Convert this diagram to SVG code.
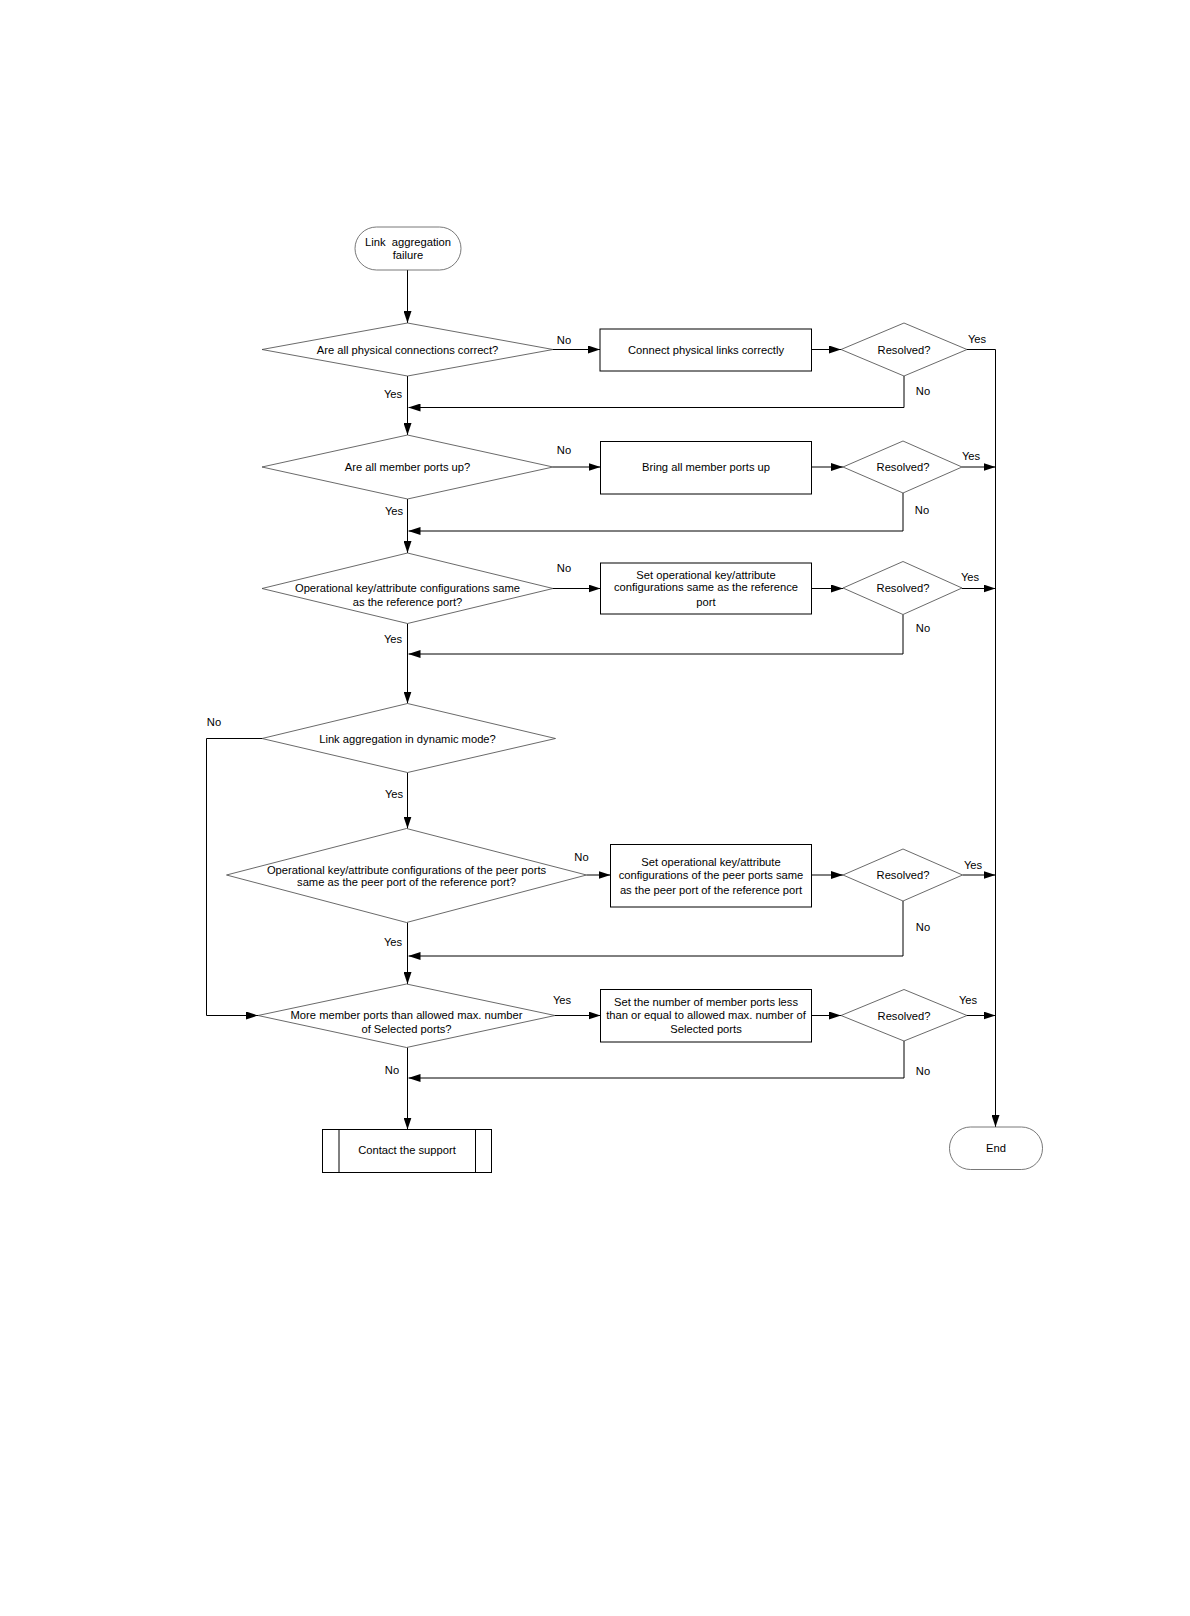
<svg xmlns="http://www.w3.org/2000/svg" width="1190" height="1616" viewBox="0 0 1190 1616">
<defs>
<marker id="ah" viewBox="0 0 12 8" refX="12" refY="4" markerWidth="12" markerHeight="8" markerUnits="userSpaceOnUse" orient="auto">
<path d="M0,0 L12,4 L0,8 Z" fill="#000"/>
</marker>
<style>
text{font-family:"Liberation Sans",Arial,sans-serif;font-size:11.2px;fill:#000;text-anchor:middle;dominant-baseline:central}
.dia{fill:#fff;stroke:#444;stroke-width:0.8}
.box{fill:#fff;stroke:#000;stroke-width:1}
.term{fill:#fff;stroke:#555;stroke-width:0.8}
.c{fill:none;stroke:#000;stroke-width:1}
.a{fill:none;stroke:#000;stroke-width:1;marker-end:url(#ah)}
</style>
</defs>
<rect width="1190" height="1616" fill="#fff"/>

<g id="connectors">
<line class="a" x1="407.5" y1="270" x2="407.5" y2="323"/>
<line class="a" x1="553" y1="349.5" x2="600" y2="349.5"/>
<line class="a" x1="811.5" y1="349.5" x2="841" y2="349.5"/>
<polyline class="a" points="967,349.5 995.5,349.5 995.5,1127"/>
<polyline class="a" points="904,376 904,407.5 408.5,407.5"/>
<line class="a" x1="407.5" y1="376" x2="407.5" y2="435"/>

<line class="a" x1="553" y1="467" x2="600.5" y2="467"/>
<line class="a" x1="811.5" y1="467" x2="843" y2="467"/>
<line class="a" x1="962" y1="467" x2="995.5" y2="467"/>
<polyline class="a" points="903,493 903,531 408.5,531"/>
<line class="a" x1="407.5" y1="499" x2="407.5" y2="553"/>

<line class="a" x1="553" y1="588.5" x2="600.5" y2="588.5"/>
<line class="a" x1="811.5" y1="588.5" x2="843" y2="588.5"/>
<line class="a" x1="962" y1="588.5" x2="995.5" y2="588.5"/>
<polyline class="a" points="903,614.5 903,654 408.5,654"/>
<line class="a" x1="407.5" y1="623.5" x2="407.5" y2="703.5"/>

<polyline class="a" points="262,738.5 206.5,738.5 206.5,1015.5 258,1015.5"/>
<line class="a" x1="407.5" y1="772.5" x2="407.5" y2="828.5"/>

<line class="a" x1="586.5" y1="875" x2="610.5" y2="875"/>
<line class="a" x1="811.5" y1="875" x2="843" y2="875"/>
<line class="a" x1="962.5" y1="875" x2="995.5" y2="875"/>
<polyline class="a" points="903,901 903,956 408.5,956"/>
<line class="a" x1="407.5" y1="922.5" x2="407.5" y2="984"/>

<line class="a" x1="555" y1="1015.5" x2="600.5" y2="1015.5"/>
<line class="a" x1="811.5" y1="1015.5" x2="841" y2="1015.5"/>
<line class="a" x1="967" y1="1015.5" x2="995.5" y2="1015.5"/>
<polyline class="a" points="904,1041 904,1078 408.5,1078"/>
<line class="a" x1="407.5" y1="1047.5" x2="407.5" y2="1129.5"/>

<text x="564" y="340">No</text>
<text x="977" y="339">Yes</text>
<text x="923" y="391">No</text>
<text x="393" y="394">Yes</text>
<text x="564" y="450">No</text>
<text x="971" y="456">Yes</text>
<text x="922" y="510">No</text>
<text x="394" y="511">Yes</text>
<text x="564" y="568">No</text>
<text x="970" y="577">Yes</text>
<text x="923" y="628">No</text>
<text x="393" y="638.5">Yes</text>
<text x="214" y="722">No</text>
<text x="394" y="794">Yes</text>
<text x="581.5" y="856.5">No</text>
<text x="973" y="865">Yes</text>
<text x="923" y="926.5">No</text>
<text x="393" y="942">Yes</text>
<text x="562" y="999.5">Yes</text>
<text x="968" y="999.5">Yes</text>
<text x="923" y="1071">No</text>
<text x="392" y="1070">No</text>
</g>

<g id="start">
<rect class="term" x="355" y="227" width="106" height="43" rx="21.5" ry="21.5"/>
<text x="408" y="241.5" xml:space="preserve">Link  aggregation</text>
<text x="408" y="254.5">failure</text>
</g>

<g id="d1">
<polygon class="dia" points="407.5,323 553,349.5 407.5,376 262,349.5"/>
<text x="407.5" y="349.5">Are all physical connections correct?</text>
</g>
<g id="b1">
<rect class="box" x="600" y="329" width="211.5" height="42"/>
<text x="706" y="350">Connect physical links correctly</text>
</g>
<g id="r1">
<polygon class="dia" points="904,323 967,349.5 904,376 841,349.5"/>
<text x="904" y="349.5">Resolved?</text>
</g>

<g id="d2">
<polygon class="dia" points="407.5,435 553,467 407.5,499 262,467"/>
<text x="407.5" y="467">Are all member ports up?</text>
</g>
<g id="b2">
<rect class="box" x="600.5" y="441.5" width="211" height="52.5"/>
<text x="706" y="467">Bring all member ports up</text>
</g>
<g id="r2">
<polygon class="dia" points="903,441 962,467 903,493 843,467"/>
<text x="903" y="467">Resolved?</text>
</g>

<g id="d3">
<polygon class="dia" points="407.5,553 553,588.5 407.5,623.5 262,588.5"/>
<text x="407.5" y="587.5">Operational key/attribute configurations same</text>
<text x="407.5" y="601.5">as the reference port?</text>
</g>
<g id="b3">
<rect class="box" x="600.5" y="563" width="211" height="51"/>
<text x="706" y="574.5">Set operational key/attribute</text>
<text x="706" y="587">configurations same as the reference</text>
<text x="706" y="601.5">port</text>
</g>
<g id="r3">
<polygon class="dia" points="903,561.5 962,588 903,614.5 843,588"/>
<text x="903" y="588">Resolved?</text>
</g>

<g id="d4">
<polygon class="dia" points="407.5,703.5 555.5,738.5 407.5,772.5 262,738.5"/>
<text x="407.5" y="738.5">Link aggregation in dynamic mode?</text>
</g>

<g id="d5">
<polygon class="dia" points="406.5,828.5 586.5,875 406.5,922.5 226.5,875"/>
<text x="406.5" y="869.5">Operational key/attribute configurations of the peer ports</text>
<text x="406.5" y="882">same as the peer port of the reference port?</text>
</g>
<g id="b5">
<rect class="box" x="610.5" y="844.5" width="201" height="62.5"/>
<text x="711" y="862">Set operational key/attribute</text>
<text x="711" y="875">configurations of the peer ports same</text>
<text x="711" y="889.5">as the peer port of the reference port</text>
</g>
<g id="r5">
<polygon class="dia" points="903,849 962.5,875 903,901 843,875"/>
<text x="903" y="875">Resolved?</text>
</g>

<g id="d6">
<polygon class="dia" points="406.5,984 555,1015.5 406.5,1047.5 258,1015.5"/>
<text x="406.5" y="1015">More member ports than allowed max. number</text>
<text x="406.5" y="1028.5">of Selected ports?</text>
</g>
<g id="b6">
<rect class="box" x="600.5" y="989.5" width="211" height="52.5"/>
<text x="706" y="1001.5">Set the number of member ports less</text>
<text x="706" y="1015">than or equal to allowed max. number of</text>
<text x="706" y="1029">Selected ports</text>
</g>
<g id="r6">
<polygon class="dia" points="904,989.5 967,1015.5 904,1041 841,1015.5"/>
<text x="904" y="1015.5">Resolved?</text>
</g>

<g id="support">
<rect class="box" x="322.5" y="1129.5" width="169" height="43"/>
<line class="c" x1="339" y1="1129.5" x2="339" y2="1172.5"/>
<line class="c" x1="475.5" y1="1129.5" x2="475.5" y2="1172.5"/>
<text x="407" y="1150">Contact the support</text>
</g>

<g id="end">
<rect class="term" x="949.5" y="1127" width="93" height="42.5" rx="21" ry="21"/>
<text x="996" y="1148">End</text>
</g>
</svg>
